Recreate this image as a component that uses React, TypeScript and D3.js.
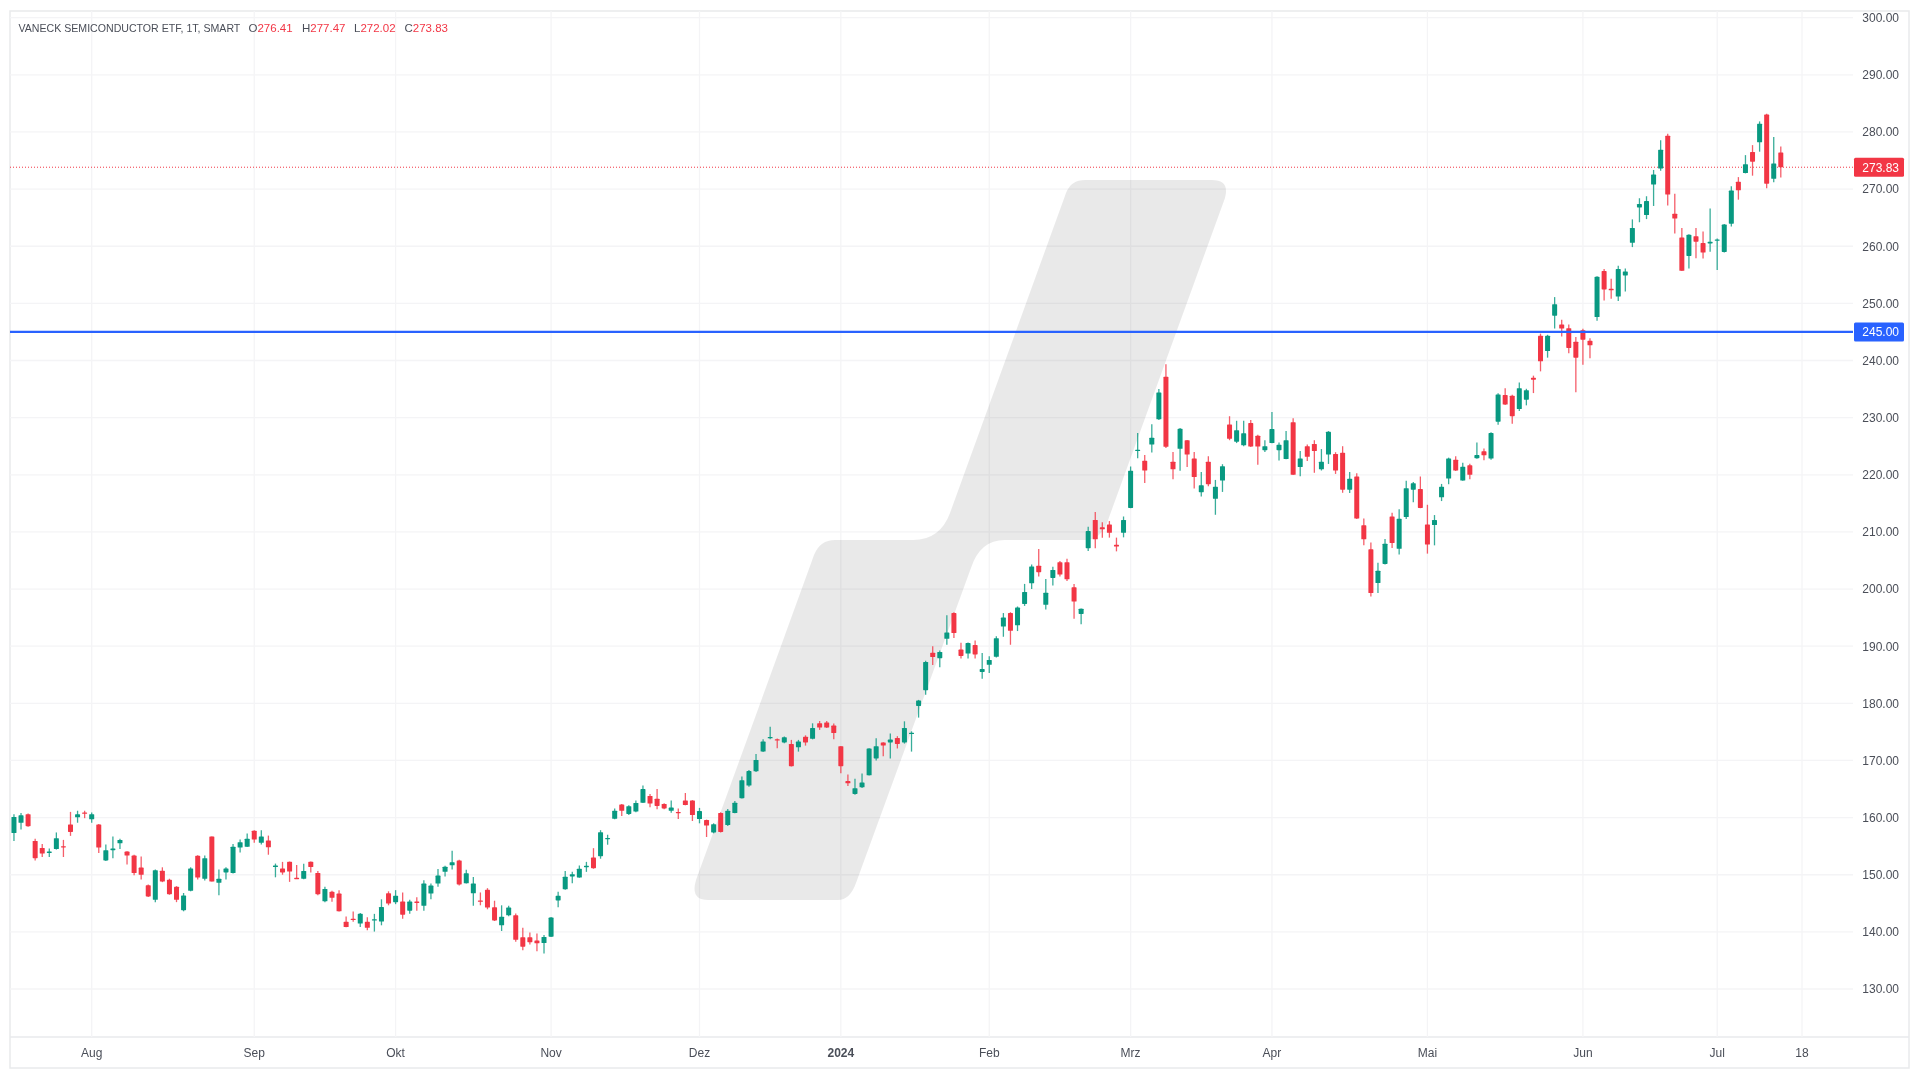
import React from 'react';
import * as d3 from 'd3';

// daily candles, one entry per trading day
const opens = [
  157.3,159.1,160.6,155.9,154.7,153.9,154.5,155.0,158.8,160.05,
  160.9,159.7,158.8,152.5,154.3,155.5,154.05,153.35,151.25,148.15,
  145.6,150.7,149.1,147.9,143.8,147.2,153.3,149.3,156.7,148.6,
  150.4,150.3,154.75,154.9,157.7,155.6,156.0,151.35,151.1,152.25,
  149.45,149.3,152.25,150.3,145.35,147.0,146.7,141.75,142.3,141.45,
  141.75,142.1,141.8,146.75,145.2,145.3,143.7,145.3,144.55,146.7,
  148.45,150.5,151.65,152.5,148.5,146.75,145.5,147.35,144.3,141.15,
  142.9,142.9,139.05,139.05,138.5,138.05,139.15,145.5,147.45,149.7,
  149.5,151.35,153.0,153.25,156.25,159.8,162.3,160.65,161.05,162.6,
  163.8,163.3,162.4,161.2,161.0,163.0,163.0,159.75,159.6,157.4,
  160.8,158.7,160.8,163.4,165.6,168.1,171.55,173.95,173.7,173.15,
  172.9,172.3,174.15,173.8,176.5,176.65,176.1,172.5,166.4,164.15,
  165.3,167.4,170.35,173.15,173.15,173.95,173.15,174.65,179.55,182.3,
  188.85,187.9,191.3,195.8,189.4,188.7,190.2,185.5,186.75,188.15,
  193.45,195.8,193.65,197.4,201.0,204.1,197.25,201.95,204.7,204.7,
  200.3,195.65,207.15,212.1,210.8,211.3,207.75,209.85,214.2,224.15,
  222.45,225.3,229.7,237.15,222.3,224.55,226.05,222.85,216.95,222.3,
  215.8,219.0,228.8,225.8,225.15,229.05,226.85,224.3,225.55,224.3,
  222.75,229.2,221.35,225.0,225.4,220.95,223.55,223.65,223.85,217.4,
  219.7,211.15,206.95,201.05,204.4,212.7,207.05,212.6,217.4,217.5,
  211.3,211.2,216.05,219.35,222.65,219.0,221.65,222.9,224.1,222.85,
  229.3,233.95,233.85,231.5,233.15,237.0,244.35,241.65,247.85,246.3,
  245.65,243.3,245.3,243.45,247.6,255.65,252.55,251.2,254.9,260.6,
  266.8,265.45,270.8,273.6,279.35,265.7,261.55,258.3,261.75,260.55,
  260.5,261.05,259.0,263.95,271.3,272.8,276.5,278.2,283.05,271.8,276.41,
];
const highs = [
  160.6,160.8,160.7,156.3,155.4,154.6,157.4,156.1,161.0,161.2,
  161.2,160.9,158.9,155.3,156.7,156.3,154.1,153.5,153.2,148.3,
  150.9,151.3,149.3,148.0,146.8,151.3,153.4,153.35,156.7,150.9,
  151.3,155.4,156.15,157.2,157.8,157.8,156.85,151.95,152.25,152.3,
  151.7,151.9,152.3,150.65,147.9,147.2,147.3,142.7,143.55,143.3,
  142.55,143.15,145.7,147.1,147.3,146.9,145.6,146.05,149.05,148.45,
  151.0,151.55,154.2,152.6,150.85,149.6,146.9,147.65,145.45,144.65,
  144.55,143.2,140.7,139.9,139.7,139.45,142.6,147.0,150.65,150.5,
  151.6,152.25,154.65,157.8,157.0,161.6,162.4,162.15,163.0,165.6,
  164.15,165.0,162.5,163.0,161.6,164.3,163.05,161.7,159.65,159.0,
  160.95,161.5,162.9,167.2,168.35,171.15,173.7,175.9,173.85,174.2,
  173.6,173.6,174.4,176.5,176.9,176.9,176.45,172.55,167.55,166.8,
  167.7,172.15,173.9,173.2,174.7,174.25,176.85,175.1,180.6,187.45,
  190.0,189.25,195.4,195.95,190.6,190.65,191.0,188.8,188.25,191.75,
  195.8,195.95,196.95,200.9,204.3,207.0,201.75,203.9,204.9,205.3,
  200.9,196.6,210.9,213.5,211.7,211.9,209.0,212.7,221.45,227.3,
  223.45,228.85,235.0,239.35,224.0,228.2,226.1,224.0,220.5,223.25,
  219.1,221.85,230.25,229.45,229.45,229.6,227.0,226.05,231.0,225.65,
  227.65,229.9,224.15,225.3,226.05,224.5,227.65,223.95,225.0,220.5,
  220.25,212.35,208.15,204.6,208.75,213.35,213.95,218.95,218.75,219.7,
  214.75,212.95,218.4,223.0,223.25,222.1,221.95,225.65,224.6,227.45,
  234.25,235.15,234.0,236.15,235.05,237.35,244.7,244.5,251.1,247.15,
  246.3,244.1,245.55,243.9,254.75,256.0,254.3,256.6,256.1,264.7,
  268.4,268.75,273.35,278.55,279.7,269.2,263.2,262.1,263.2,262.6,
  266.6,261.35,263.9,270.5,272.1,275.95,277.7,281.85,283.2,279.1,277.47,
];
const lows = [
  155.9,157.9,158.4,152.5,153.1,153.1,154.4,153.1,156.8,159.1,
  159.9,159.1,153.8,152.4,152.9,154.5,151.8,149.9,149.15,146.1,
  145.2,148.7,146.5,145.2,143.6,147.1,149.15,149.0,148.8,146.4,
  149.15,150.2,153.9,154.85,155.6,155.3,153.5,149.55,150.0,148.75,
  149.3,149.2,150.4,146.4,145.2,145.25,143.55,140.8,141.75,140.85,
  140.3,140.05,141.15,144.65,144.85,142.3,143.15,143.7,143.7,145.7,
  147.9,149.7,150.9,148.1,148.45,144.55,144.65,143.95,141.9,140.15,
  142.75,138.25,136.8,137.8,136.6,136.2,139.1,144.3,147.35,148.5,
  149.45,150.5,151.05,152.8,155.25,159.7,160.3,160.45,160.95,162.55,
  161.8,161.45,161.45,160.85,159.75,162.15,159.4,159.0,156.6,157.25,
  157.4,158.55,160.75,163.35,165.4,168.0,171.5,173.7,172.15,173.0,
  168.95,171.55,172.6,173.7,175.35,175.7,173.7,167.75,165.55,164.0,
  165.2,167.35,170.0,170.75,170.35,172.1,172.95,171.55,177.5,181.5,
  186.7,186.3,190.25,191.45,187.85,187.85,187.85,184.3,185.3,188.0,
  191.65,190.25,192.65,197.05,200.0,202.2,196.4,200.6,202.2,201.4,
  194.8,193.85,206.65,207.15,209.0,209.0,206.6,209.05,214.15,222.9,
  218.55,223.9,229.6,224.7,219.2,220.7,221.35,217.6,216.2,218.0,
  213.0,217.0,226.05,225.55,225.0,224.85,221.75,224.0,225.5,222.5,
  222.7,219.95,219.75,222.4,220.35,220.75,221.9,220.15,216.85,216.8,
  212.25,207.65,198.7,199.3,204.3,207.2,206.05,212.25,215.2,214.15,
  206.2,207.65,215.4,218.35,220.65,218.95,219.2,222.8,222.55,222.65,
  228.75,232.2,228.95,231.15,232.15,234.3,238.1,240.5,245.6,244.2,
  241.25,234.45,239.25,240.4,246.95,250.5,250.8,250.4,252.1,259.85,
  264.2,264.75,267.05,273.2,267.15,262.25,255.65,256.1,257.9,257.85,
  259.05,255.85,258.9,263.45,268.15,272.75,272.35,276.55,270.15,271.2,272.02,
];
const closes = [
  160.1,160.4,158.5,152.9,153.7,154.05,156.4,154.8,157.5,160.6,
  160.7,160.6,154.75,154.3,154.6,156.1,153.35,150.3,150.0,146.2,
  150.8,148.8,146.6,145.6,146.35,151.1,149.5,152.9,148.8,149.3,
  151.1,154.9,155.7,156.3,156.15,156.7,154.8,151.6,150.4,150.55,
  149.35,150.65,151.35,146.6,147.5,145.95,143.6,140.85,142.15,143.15,
  140.7,142.2,144.35,144.95,146.3,143.0,145.3,145.1,148.45,148.1,
  149.85,151.4,152.2,148.3,150.25,148.45,145.3,144.25,142.0,142.65,
  144.25,138.6,137.4,138.2,138.0,139.1,142.5,146.3,149.65,150.1,
  151.05,151.55,151.15,157.45,156.45,161.2,161.2,162.0,162.55,165.0,
  162.45,162.05,161.6,161.75,160.8,162.2,160.45,161.15,158.6,158.85,
  157.5,161.2,162.6,166.55,168.15,170.1,173.3,174.1,173.5,174.05,
  169.0,173.3,173.15,175.7,175.75,175.75,174.8,169.0,166.0,165.15,
  166.15,172.1,172.5,172.6,173.65,172.9,175.7,174.85,180.5,187.25,
  188.1,189.0,192.4,192.3,188.3,190.55,188.55,186.0,187.6,191.4,
  195.0,192.7,196.75,199.5,203.95,202.95,199.35,203.35,202.55,201.7,
  197.8,196.55,210.15,208.7,210.45,209.85,207.45,212.1,220.7,224.4,
  220.75,226.5,234.4,224.9,220.95,228.05,223.55,219.6,218.15,218.35,
  217.9,221.5,226.3,227.8,227.25,224.95,224.95,225.0,228.0,225.25,
  226.05,220.0,222.85,223.15,224.15,222.3,227.55,220.75,217.4,219.3,
  212.35,208.7,199.3,203.2,207.95,208.05,212.3,217.65,218.5,214.2,
  207.8,212.1,217.9,222.85,220.75,221.4,220.0,223.45,223.4,227.3,
  234.05,232.3,230.25,235.15,234.8,236.65,239.85,244.35,249.85,245.6,
  242.2,240.5,243.65,242.65,254.65,252.45,252.3,256.0,255.6,263.2,
  267.4,267.9,272.55,276.9,269.05,264.85,255.7,262.0,260.8,258.9,
  260.8,261.2,263.8,269.75,269.8,274.35,274.8,281.45,270.95,274.5,273.83,
];

const priceTicks = d3.range(130, 301, 10);
const timeLabels = ['Aug', 'Sep', 'Okt', 'Nov', 'Dez', '2024', 'Feb', 'Mrz', 'Apr', 'Mai', 'Jun', 'Jul', '18'];
const timeIndexes = [11, 34, 54, 76, 97, 117, 138, 158, 178, 200, 222, 241, 253];

const lastPrice = 273.83;
const levelPrice = 245;

const legendTitle = 'VANECK SEMICONDUCTOR ETF, 1T, SMART';
const legendKeys = ['O', 'H', 'L', 'C'];
const legendValues = ['276.41', '277.47', '272.02', '273.83'];
const legendStarts = [248.5, 302, 354, 404.5];

const UP = '#089981';
const DOWN = '#f23645';
const BLUE = '#2962ff';
const GRID = '#f4f4f6';
const BORDER = '#e9eaec';
const TEXT = '#4a4e58';
const FONT = '"Liberation Sans", Arial, sans-serif';

const LOGO =
  'M708 900 Q690 900 696 880 L814 555 Q820 540 835 540 L913 540 Q940 540 950 513 L1066 193 Q1071 180 1085 180 ' +
  'L1212 180 Q1230 180 1225 198 L1107 523 Q1100 540 1085 540 L1005 540 Q980 540 971 568 L856 883 Q850 900 838 900 Z';

const x = d3.scaleLinear().domain([0, 253]).range([13.96, 1802]);
const y = d3.scaleLinear().domain([130, 300]).range([989, 17.7]);

const PANE = { left: 10, right: 1853, top: 11, bottom: 1037, outerRight: 1909, outerBottom: 1068 };
const BODY_W = 5;

export default function App() {
  const candles = d3.range(opens.length).map(i => ({
    i,
    o: opens[i],
    h: highs[i],
    l: lows[i],
    c: closes[i],
  }));

  return (
    <svg
      width={1920}
      height={1080}
      style={{ position: 'fixed', left: 0, top: 0, background: '#fff', fontFamily: FONT, filter: 'blur(0.3px)' }}
    >
      {/* frame */}
      <rect
        x={PANE.left}
        y={PANE.top}
        width={PANE.outerRight - PANE.left}
        height={PANE.outerBottom - PANE.top}
        fill="none"
        stroke={BORDER}
        strokeWidth={1.5}
      />
      <line x1={PANE.left} x2={PANE.outerRight} y1={PANE.bottom} y2={PANE.bottom} stroke={BORDER} strokeWidth={1.5} />

      {/* grid */}
      {priceTicks.map(t => (
        <line key={t} x1={PANE.left} x2={PANE.right} y1={y(t)} y2={y(t)} stroke={GRID} strokeWidth={1.3} />
      ))}
      {timeIndexes.map(t => (
        <line key={t} x1={x(t)} x2={x(t)} y1={PANE.top} y2={PANE.bottom} stroke={GRID} strokeWidth={1.3} />
      ))}

      {/* watermark */}
      <path d={LOGO} fill="#000" fillOpacity={0.088} />

      {/* last price and level lines */}
      <line
        x1={PANE.left}
        x2={PANE.right}
        y1={y(lastPrice)}
        y2={y(lastPrice)}
        stroke={DOWN}
        strokeWidth={1}
        strokeDasharray="1 2"
      />

      {/* candles */}
      {candles.map(d => {
        const color = d.c >= d.o ? UP : DOWN;
        const top = y(Math.max(d.o, d.c));
        const bottom = y(Math.min(d.o, d.c));
        return (
          <g key={d.i}>
            <line x1={x(d.i)} x2={x(d.i)} y1={y(d.h)} y2={y(d.l)} stroke={color} strokeWidth={1.3} strokeOpacity={0.8} />
            <rect
              x={x(d.i) - BODY_W / 2}
              y={top}
              width={BODY_W}
              height={Math.max(bottom - top, 1.3)}
              rx={0.6}
              fill={color}
            />
          </g>
        );
      })}

      <line x1={PANE.left} x2={PANE.right} y1={y(levelPrice)} y2={y(levelPrice)} stroke={BLUE} strokeWidth={2.2} />

      {/* price axis */}
      {priceTicks.map(t => (
        <text key={t} x={1899} y={y(t)} dy="0.36em" textAnchor="end" fontSize={12} fill={TEXT}>
          {t.toFixed(2)}
        </text>
      ))}
      <rect x={1854} y={y(lastPrice) - 9.5} width={50} height={19} rx={1.5} fill={DOWN} />
      <text x={1899} y={y(lastPrice)} dy="0.36em" textAnchor="end" fontSize={12} fill="#fff">
        {lastPrice.toFixed(2)}
      </text>
      <rect x={1854} y={y(levelPrice) - 9.5} width={50} height={19} rx={1.5} fill={BLUE} />
      <text x={1899} y={y(levelPrice)} dy="0.36em" textAnchor="end" fontSize={12} fill="#fff">
        {levelPrice.toFixed(2)}
      </text>

      {/* time axis */}
      {timeLabels.map((label, i) => (
        <text
          key={label}
          x={x(timeIndexes[i])}
          y={1052.5}
          dy="0.36em"
          textAnchor="middle"
          fontSize={12}
          fontWeight={label === '2024' ? 700 : 400}
          fill={TEXT}
        >
          {label}
        </text>
      ))}

      {/* legend: title squeezed to the reference width */}
      <text transform="translate(18.5,28) scale(0.922,1)" dy="0.36em" fontSize={11.5} fill={TEXT}>
        {legendTitle}
      </text>
      {legendKeys.map((key, i) => (
        <text key={key} x={legendStarts[i]} y={28} dy="0.36em" fontSize={11.5} fill={TEXT}>
          {key}
          <tspan fill={DOWN}>{legendValues[i]}</tspan>
        </text>
      ))}
    </svg>
  );
}
